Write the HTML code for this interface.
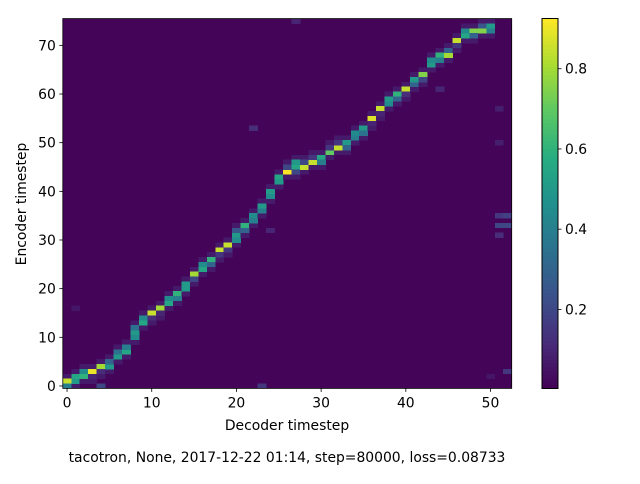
<!DOCTYPE html>
<html><head><meta charset="utf-8"><style>
body{margin:0;background:#fff;font-family:"DejaVu Sans",sans-serif}
svg text{font-family:"DejaVu Sans","Liberation Sans",sans-serif;font-size:13.9px;fill:#000}
</style></head><body>
<svg id="chart" width="640" height="480" xmlns="http://www.w3.org/2000/svg">
<defs><clipPath id="clip"><rect x="62.8" y="18.6" width="448.9" height="369.8"/></clipPath></defs>
<rect width="640" height="480" fill="#fff"/>
<g id="cells" shape-rendering="crispEdges" clip-path="url(#clip)"></g>
<g id="cbar" shape-rendering="crispEdges"></g>
<g id="axes"></g>
</svg>
<script>
// decoder step -> attended encoder steps and weights
const decoderSteps = 53;
const encoderSteps = 76;
const peakIdx = [[1,0],[1,2],[2,3],[3,2],[4,3],[4,5],[6,7],[7,8],[11,10,12],[13,14],[15,14],[16,15],[17,18],[19,18],[21,20],[23,22],[24,25],[26,25],[28,27],[29,28],[31,30,32],[33,32],[35,34],[37,36],[40,39],[43,42],[44,45],[45,46,44],[45,46],[46,47],[47,46],[48,49],[49,50],[50,49],[52,51],[53,52],[55,54],[57,56],[59,58],[60,59],[61,60],[62,63],[64,63],[66,67],[68,67],[68,69],[71,70],[72,73],[73,72],[73,74],[74,73],[],[]];
const peakVal = [[0.85,0.4],[0.5,0.55],[0.6,0.45],[0.9,0.1],[0.8,0.12],[0.5,0.3],[0.5,0.35],[0.55,0.4],[0.5,0.45,0.35],[0.55,0.45],[0.85,0.12],[0.8,0.1],[0.55,0.45],[0.6,0.4],[0.5,0.5],[0.8,0.2],[0.55,0.45],[0.6,0.3],[0.85,0.15],[0.85,0.15],[0.5,0.45,0.25],[0.6,0.3],[0.45,0.4],[0.5,0.4],[0.5,0.45],[0.55,0.5],[0.92,0.2],[0.55,0.5,0.2],[0.85,0.2],[0.85,0.15],[0.55,0.4],[0.7,0.15],[0.85,0.15],[0.5,0.3],[0.45,0.4],[0.5,0.35],[0.88,0.1],[0.85,0.1],[0.5,0.45],[0.6,0.3],[0.85,0.12],[0.3,0.5],[0.75,0.2],[0.5,0.45],[0.6,0.4],[0.8,0.3],[0.85,0.15],[0.55,0.45],[0.75,0.3],[0.75,0.25],[0.5,0.4],[],[]];
const noiseCells = [[4,0,0.2],[23,0,0.15],[27,75,0.1],[22,53,0.12],[51,33,0.2],[52,33,0.2],[51,35,0.15],[52,35,0.18],[51,31,0.12],[52,3,0.15],[44,61,0.1],[51,57,0.08],[24,32,0.1],[1,16,0.06],[51,50,0.08],[50,2,0.06]];
const cbTicks = [0.2,0.4,0.6,0.8];
const xTicks = [0,10,20,30,40,50];
const yTicks = [0,10,20,30,40,50,60,70];

const vmin=0.0025, vmax=0.925;
const X0=62.8, X1=511.7, Y0=388.4, Y1=18.6;
const xs=v=>X0+(v+0.5)*(X1-X0)/decoderSteps;
const ys=v=>Y0-(v+0.5)*(Y0-Y1)/encoderSteps;
const stops=[[0,68,1,84],[0.125,71,44,122],[0.25,59,81,139],[0.375,44,113,142],[0.5,33,144,141],[0.625,39,173,129],[0.75,92,200,99],[0.875,170,220,50],[1,253,231,37]];
function vir(t){t=Math.max(0,Math.min(1,t));for(let i=1;i<stops.length;i++){if(t<=stops[i][0]){const a=stops[i-1],b=stops[i],f=(t-a[0])/(b[0]-a[0]);return `rgb(${Math.round(a[1]+f*(b[1]-a[1]))},${Math.round(a[2]+f*(b[2]-a[2]))},${Math.round(a[3]+f*(b[3]-a[3]))})`;}}return 'rgb(253,231,37)';}
const NS='http://www.w3.org/2000/svg';
function mk(tag,attrs,parent){const e=document.createElementNS(NS,tag);for(const k in attrs)e.setAttribute(k,attrs[k]);parent.appendChild(e);return e;}
const cells=document.getElementById('cells');
const bg=mk('rect',{x:X0,y:Y1,width:X1-X0,height:Y0-Y1,fill:vir(0.012/vmax)},cells);


const cw=(X1-X0)/decoderSteps, ch=(Y0-Y1)/encoderSteps;
function cell(d,e,v){
  const r=mk('rect',{x:xs(d)-cw/2,y:ys(e)-ch/2,width:cw+0.4,height:ch+0.4,fill:vir((v-vmin)/(vmax-vmin))},cells);
  
  
}
noiseCells.forEach(n=>cell(n[0],n[1],n[2]));
peakIdx.forEach((list,d)=>{
  const lo=Math.min(...list), hi=Math.max(...list);
  if(list.length){cell(d,lo-1,0.07);cell(d,hi+1,0.07);}
  list.forEach((e,i)=>cell(d,e,peakVal[d][i]));
});
// colorbar
const cb=document.getElementById('cbar');
const CBX=542, CBW=16, CBT=18.6, CBB=388.6;
for(let i=0;i<100;i++){const t0=i/100;mk('rect',{x:CBX,y:CBB-(i+1)*(CBB-CBT)/100,width:CBW,height:(CBB-CBT)/100+0.5,fill:vir(t0+0.005)},cb);}
mk('rect',{x:CBX,y:CBT,width:CBW,height:CBB-CBT,fill:'none',stroke:'#000','stroke-width':0.8},cb);
const cby=v=>CBB-(v-vmin)/(vmax-vmin)*(CBB-CBT);
const ax=document.getElementById('axes');
cbTicks.forEach(v=>{
  mk('line',{x1:CBX+CBW,x2:CBX+CBW+3.5,y1:cby(v),y2:cby(v),stroke:'#000','stroke-width':0.8},ax);
  const t=mk('text',{x:CBX+CBW+7,y:cby(v)+5},ax);t.textContent=v.toFixed(1);
  
  
});
mk('rect',{x:X0,y:Y1,width:X1-X0,height:Y0-Y1,fill:'none',stroke:'#000','stroke-width':0.8},ax);
xTicks.forEach(v=>{
  mk('line',{x1:xs(v),x2:xs(v),y1:Y0,y2:Y0+3.5,stroke:'#000','stroke-width':0.8},ax);
  const t=mk('text',{x:xs(v),y:Y0+19,'text-anchor':'middle'},ax);t.textContent=v;
  
  
});
yTicks.forEach(v=>{
  mk('line',{x1:X0-3.5,x2:X0,y1:ys(v),y2:ys(v),stroke:'#000','stroke-width':0.8},ax);
  const t=mk('text',{x:X0-7,y:ys(v)+5,'text-anchor':'end'},ax);t.textContent=v;
  
  
});
</script>
<svg style="position:absolute;left:0;top:0" width="640" height="480">
<text x="287" y="430" text-anchor="middle">Decoder timestep</text>
<text x="0" y="0" text-anchor="middle" transform="translate(26,204) rotate(-90)">Encoder timestep</text>
<text x="287" y="462" text-anchor="middle">tacotron, None, 2017-12-22 01:14, step=80000, loss=0.08733</text>
</svg>
</body></html>
